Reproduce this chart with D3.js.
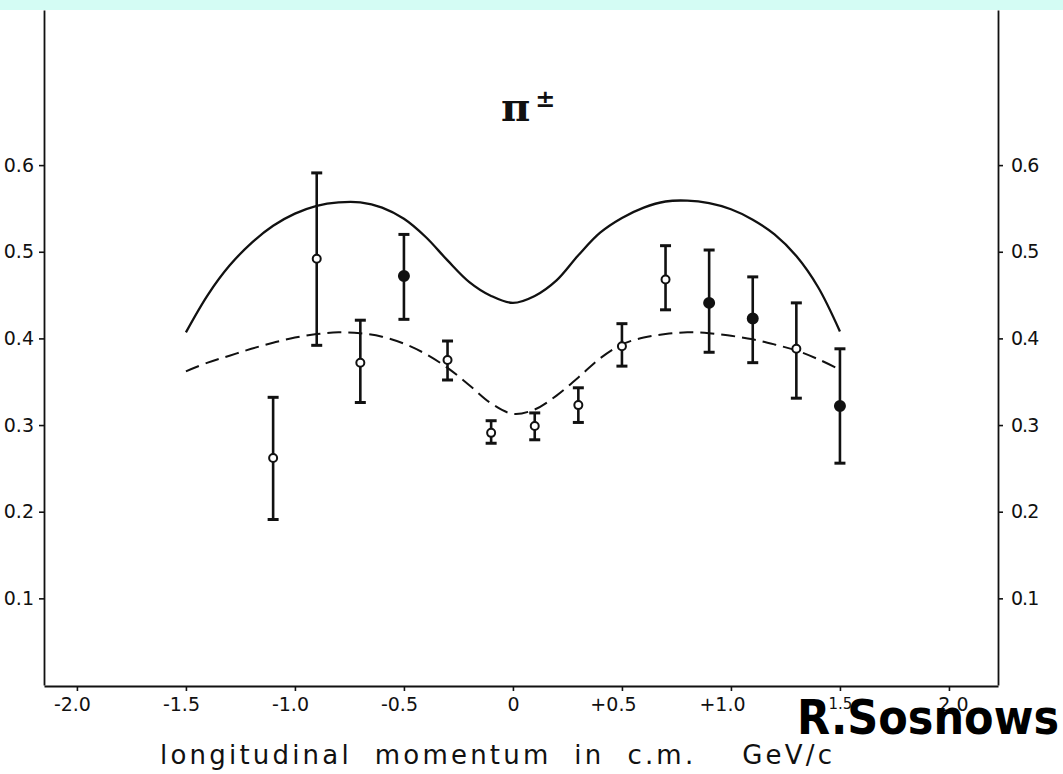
<!DOCTYPE html>
<html><head><meta charset="utf-8">
<script src="https://cdn.jsdelivr.net/npm/d3@7"></script>
<style>body{margin:0;background:#fff;} svg{display:block;}</style>
</head><body>
<svg id="c" width="1063" height="774"></svg>
<script>
// ---- data ----
const xTicks = [-2.0, -1.5, -1.0, -0.5, 0, 0.5, 1.0, 1.5, 2.0];
const xTickLabels = ["-2.0", "-1.5", "-1.0", "-0.5", "0", "+0.5", "+1.0", "1.5", "2.0"];
const yTicks = [0.1, 0.2, 0.3, 0.4, 0.5, 0.6];
const yTickLabelsLeft = ["0.1", "0.2", "0.3", "0.4", "0.5", "0.6"];
const yTickLabelsRight = ["0.1", "0.2", "0.3", "0.4", "0.5", "0.6"];

const pointX   = [-1.1, -0.9, -0.7, -0.5, -0.3, -0.1, 0.1, 0.3, 0.5, 0.7, 0.9, 1.1, 1.3, 1.5];
const pointY   = [0.262, 0.492, 0.372, 0.472, 0.375, 0.291, 0.299, 0.323, 0.391, 0.468, 0.441, 0.423, 0.388, 0.322];
const errHigh  = [0.332, 0.591, 0.421, 0.520, 0.397, 0.305, 0.314, 0.343, 0.417, 0.507, 0.502, 0.471, 0.441, 0.388];
const errLow   = [0.191, 0.392, 0.326, 0.422, 0.352, 0.279, 0.283, 0.303, 0.368, 0.433, 0.384, 0.372, 0.331, 0.256];
const pointFilled = [false, false, false, true, false, false, false, false, false, false, true, true, false, true];

const curveX = [-1.5, -1.4, -1.3, -1.2, -1.1, -1.0, -0.9, -0.8, -0.7, -0.6, -0.5, -0.4, -0.3, -0.2, -0.1, 0,
                0.1, 0.2, 0.3, 0.4, 0.5, 0.6, 0.7, 0.8, 0.9, 1.0, 1.1, 1.2, 1.3, 1.4, 1.5];
const solidY = [0.407, 0.450, 0.484, 0.510, 0.530, 0.544, 0.553, 0.557, 0.557, 0.551, 0.538, 0.517, 0.490, 0.465, 0.449, 0.441,
                0.449, 0.467, 0.496, 0.522, 0.539, 0.551, 0.558, 0.559, 0.556, 0.549, 0.537, 0.520, 0.495, 0.459, 0.408];
const dashedY = [0.362, 0.372, 0.380, 0.388, 0.395, 0.401, 0.405, 0.407, 0.406, 0.402, 0.394, 0.382, 0.366, 0.346, 0.325, 0.313,
                 0.318, 0.334, 0.355, 0.377, 0.393, 0.401, 0.405, 0.407, 0.406, 0.403, 0.399, 0.393, 0.386, 0.376, 0.364];

const titleMain = "π";
const titleSup = "±";
const xLabel = "longitudinal  momentum  in  c.m.    GeV/c";
const watermark = "R.Sosnows";

// ---- drawing ----
const svg = d3.select("#c");
const ink = "#111";
const tickFont = "'DejaVu Sans', sans-serif";

svg.append("rect").attr("x", 0).attr("y", 0).attr("width", 1063).attr("height", 10).attr("fill", "#d4fcf4");

const x = d3.scaleLinear().domain([-2.151, 2.225]).range([44, 998]);
const y = d3.scaleLinear().domain([0, 0.779]).range([685, 10]);

function styleAxis(g) {
  g.select(".domain").attr("stroke", ink).attr("stroke-width", 1.8);
  g.selectAll(".tick line").attr("stroke", ink).attr("stroke-width", 1.6);
  g.selectAll(".tick text").attr("fill", ink).attr("font-family", tickFont).attr("font-size", 19);
  g.attr("font-family", null).attr("font-size", null);
}

// left axis
svg.append("g").attr("transform", "translate(44,0)")
  .call(d3.axisLeft(y).tickValues(yTicks).tickFormat((d, i) => yTickLabelsLeft[i])
        .tickSize(5).tickSizeOuter(0).tickPadding(5))
  .call(styleAxis);

// right axis
svg.append("g").attr("transform", "translate(998,0)")
  .call(d3.axisRight(y).tickValues(yTicks).tickFormat((d, i) => yTickLabelsRight[i])
        .tickSize(5).tickSizeOuter(0).tickPadding(8))
  .call(styleAxis)
  .selectAll(".tick text").attr("letter-spacing", -1);

// bottom axis
const gx = svg.append("g").attr("transform", "translate(0,686)")
  .call(d3.axisBottom(x).tickValues(xTicks).tickFormat((d, i) => xTickLabels[i])
        .tickSize(5).tickSizeOuter(0).tickPadding(7))
  .call(styleAxis);
gx.selectAll(".tick text").attr("dx", function () {
  const t = d3.select(this).text();
  if (t[0] === "-") return -5;
  if (t[0] === "+") return -9;
  if (t === "2.0") return 4;
  return 0;
});
gx.selectAll(".tick").filter((d) => d === 1.5).select("text").attr("font-size", 15);

// curves
const line = d3.line().x((d) => x(d[0])).y((d) => y(d[1])).curve(d3.curveCatmullRom.alpha(0.5));
svg.append("path").datum(curveX.map((v, i) => [v, solidY[i]]))
  .attr("d", line).attr("fill", "none").attr("stroke", ink).attr("stroke-width", 2.3);
svg.append("path").datum(curveX.map((v, i) => [v, dashedY[i]]))
  .attr("d", line).attr("fill", "none").attr("stroke", ink).attr("stroke-width", 2)
  .attr("stroke-dasharray", "14,7");

// error bars
const pts = pointX.map((v, i) => ({ x: v, y: pointY[i], hi: errHigh[i], lo: errLow[i], f: pointFilled[i] }));
const eg = svg.append("g");
eg.selectAll("line.bar").data(pts).join("line").attr("class", "bar")
  .attr("x1", (d) => x(d.x)).attr("x2", (d) => x(d.x))
  .attr("y1", (d) => y(d.hi)).attr("y2", (d) => y(d.lo))
  .attr("stroke", ink).attr("stroke-width", 2.6);
["hi", "lo"].forEach((k) => {
  eg.selectAll("line.cap" + k).data(pts).join("line").attr("class", "cap" + k)
    .attr("x1", (d) => x(d.x) - 5.5).attr("x2", (d) => x(d.x) + 5.5)
    .attr("y1", (d) => y(d[k])).attr("y2", (d) => y(d[k]))
    .attr("stroke", ink).attr("stroke-width", 3);
});
eg.selectAll("circle").data(pts).join("circle")
  .attr("cx", (d) => x(d.x)).attr("cy", (d) => y(d.y))
  .attr("r", (d) => d.f ? 5 : 4)
  .attr("fill", (d) => d.f ? ink : "#fff")
  .attr("stroke", ink).attr("stroke-width", 2);

// title
const tt = svg.append("text").attr("x", 501).attr("y", 121)
  .attr("font-family", "'DejaVu Serif', serif").attr("font-weight", "bold")
  .attr("font-size", 40).attr("fill", ink).text(titleMain);
tt.append("tspan").attr("dx", 5).attr("dy", -14).attr("font-size", 24).text(titleSup);

// x label
svg.append("text").attr("x", 160).attr("y", 764)
  .attr("font-family", "'DejaVu Sans', sans-serif").attr("font-size", 26)
  .attr("textLength", 672).attr("lengthAdjust", "spacing")
  .attr("fill", ink).attr("xml:space", "preserve").style("white-space", "pre").text(xLabel);

// watermark
svg.append("text").attr("x", 797).attr("y", 734)
  .attr("font-family", "'DejaVu Sans', sans-serif").attr("font-weight", "bold")
  .attr("font-size", 48).attr("textLength", 262).attr("lengthAdjust", "spacingAndGlyphs")
  .attr("fill", "#000").text(watermark);
</script>
</body></html>
